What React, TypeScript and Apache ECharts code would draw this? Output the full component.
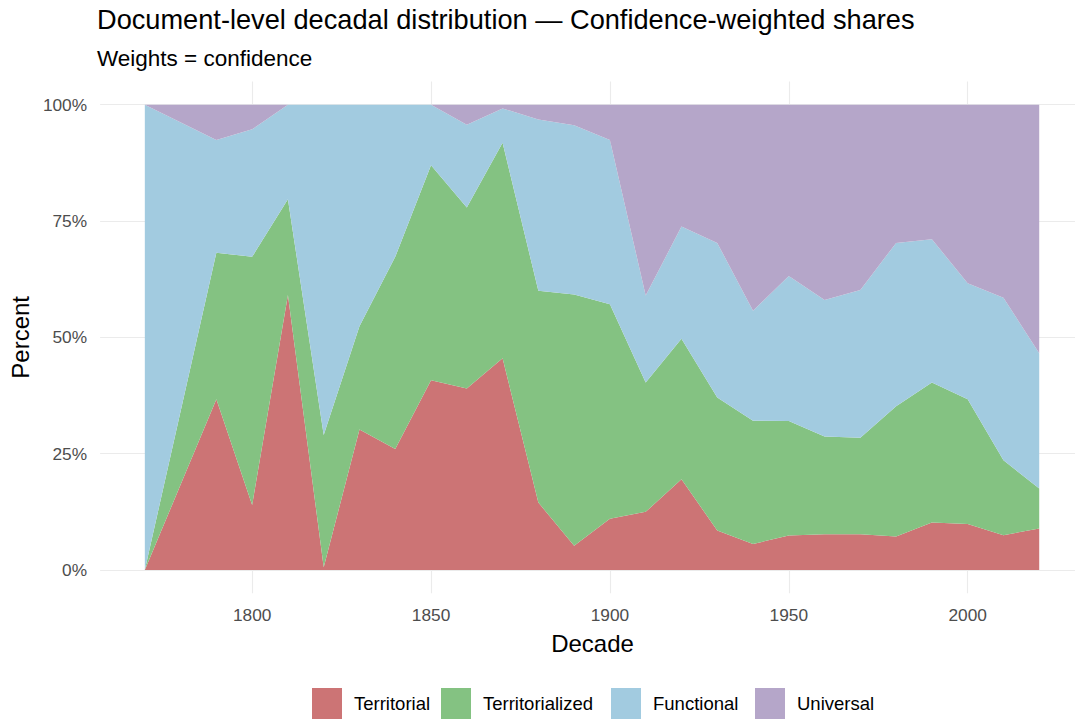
import React, { useEffect, useRef } from "react";
import * as echarts from "echarts";

const decades = [1770, 1790, 1800, 1810, 1820, 1830, 1840, 1850, 1860, 1870, 1880, 1890, 1900, 1910, 1920, 1930, 1940, 1950, 1960, 1970, 1980, 1990, 2000, 2010, 2020];
const territorial = [0, 36.7, 14.0, 59.1, 0.6, 30.2, 26.0, 40.8, 39.0, 45.5, 14.5, 5.2, 11.0, 12.5, 19.5, 8.5, 5.6, 7.4, 7.7, 7.7, 7.2, 10.2, 9.9, 7.5, 8.9];
const territorialized = [0, 31.5, 53.3, 20.6, 28.4, 22.2, 41.3, 46.2, 38.9, 46.3, 45.5, 54.0, 46.1, 27.8, 30.2, 28.6, 26.5, 24.6, 21.0, 20.7, 28.0, 30.1, 26.8, 16.1, 8.6];
const functional = [100, 24.2, 27.4, 20.3, 71.0, 47.6, 32.7, 13.0, 17.8, 7.4, 36.8, 36.4, 35.3, 18.7, 24.1, 33.2, 23.6, 31.2, 29.3, 31.8, 35.1, 30.8, 24.9, 34.9, 29.1];
const universal = [0, 7.6, 5.3, 0, 0, 0, 0, 0, 4.3, 0.8, 3.2, 4.4, 7.6, 41.0, 26.2, 29.7, 44.3, 36.8, 42.0, 39.8, 29.7, 28.9, 38.4, 41.5, 53.4];

const seriesNames = ["Territorial", "Territorialized", "Functional", "Universal"];
const seriesValues = [territorial, territorialized, functional, universal];
const colors = ["#CC7475", "#84C282", "#A2CBE0", "#B5A6C9"];
const xTicks = [1800, 1850, 1900, 1950, 2000];
const yTicks = [0, 25, 50, 75, 100];
const legendLefts = [312, 441, 611, 755];

const FONT = "Liberation Sans, Arial, sans-serif";

export default function App() {
  const ref = useRef<HTMLDivElement>(null);
  useEffect(() => {
    document.body.style.margin = "0";
    const chart = echarts.init(ref.current!, null, { renderer: "svg" });
    chart.setOption({
      animation: false,
      backgroundColor: "#ffffff",
      textStyle: { fontFamily: FONT },
      title: [
        {
          text: "Document-level decadal distribution — Confidence-weighted shares",
          left: 97,
          top: 6,
          padding: 0,
          textStyle: { fontSize: 27.2, fontWeight: "normal", color: "#000", fontFamily: FONT },
        },
        {
          text: "Weights = confidence",
          left: 97,
          top: 47,
          padding: 0,
          textStyle: { fontSize: 22.5, fontWeight: "normal", color: "#000", fontFamily: FONT },
        },
      ],
      legend: seriesNames.map((name, i) => ({
        left: legendLefts[i],
        top: 688,
        padding: 0,
        icon: "rect",
        itemWidth: 30,
        itemHeight: 31,
        data: [name],
        selectedMode: false,
        textStyle: { fontSize: 18.5, color: "#000", fontFamily: FONT, padding: [0, 0, 0, 7] },
      })),
      grid: { left: 97, right: 2, top: 81.4, bottom: 126.7 },
      xAxis: {
        type: "value",
        min: 1757.5,
        max: 2030,
        name: "Decade",
        nameLocation: "middle",
        nameGap: 38,
        nameTextStyle: { fontSize: 24, color: "#000", fontFamily: FONT, padding: [0, 0, 0, 10] },
        axisLine: { show: false },
        axisTick: { show: false, customValues: xTicks },
        axisLabel: {
          customValues: xTicks,
          fontSize: 17.3,
          color: "#4D4D4D",
          margin: 13,
          fontFamily: FONT,
          formatter: (v: number) => String(v),
        },
        splitLine: { show: true, lineStyle: { color: "#EBEBEB", width: 1.1 } },
      },
      yAxis: {
        type: "value",
        min: -5,
        max: 105,
        name: "Percent",
        nameLocation: "middle",
        nameGap: 62,
        nameTextStyle: { fontSize: 24, color: "#000", fontFamily: FONT },
        axisLine: { show: false },
        axisTick: { show: false, customValues: yTicks },
        axisLabel: {
          customValues: yTicks,
          fontSize: 17.3,
          color: "#4D4D4D",
          margin: 13,
          fontFamily: FONT,
          formatter: (v: number) => `${v}%`,
        },
        splitLine: { show: true, lineStyle: { color: "#EBEBEB", width: 1.1 } },
      },
      series: seriesNames.map((name, i) => ({
        name,
        type: "line",
        stack: "total",
        // value first so that the stack is computed on the y dimension
        data: decades.map((d, j) => [seriesValues[i][j], d]),
        encode: { x: 1, y: 0 },
        showSymbol: false,
        symbol: "none",
        lineStyle: { width: 0 },
        areaStyle: { color: colors[i], opacity: 1 },
        itemStyle: { color: colors[i] },
        silent: true,
      })),
    });
    return () => chart.dispose();
  }, []);
  return <div ref={ref} style={{ width: 1077, height: 720 }} />;
}
